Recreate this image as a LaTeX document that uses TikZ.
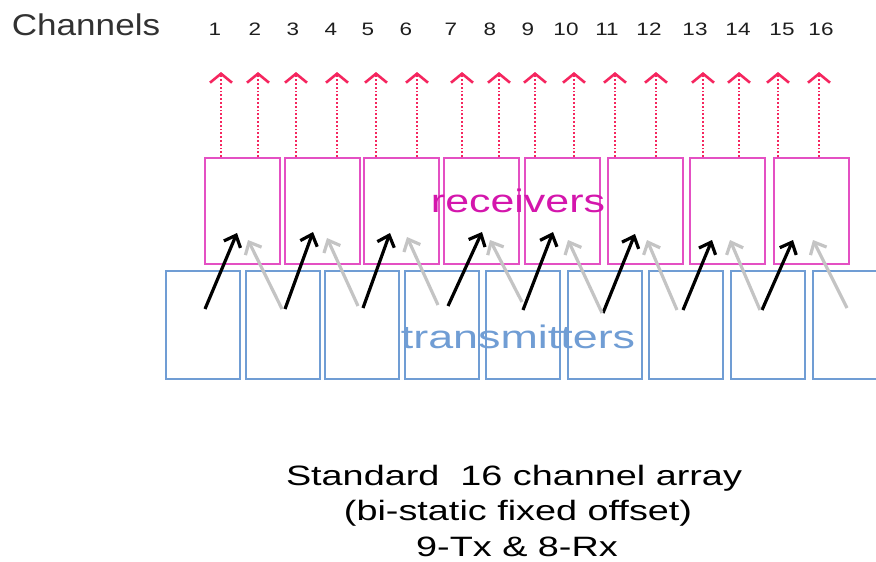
\documentclass[tikz,border=0pt]{standalone}
\usepackage{fontspec}
\setmainfont{Liberation Sans}
\usepackage{graphicx}
\usetikzlibrary{arrows.meta}

\definecolor{rxline}{RGB}{228,80,195}
\definecolor{rxtext}{RGB}{212,22,172}
\definecolor{txblue}{RGB}{112,157,212}
\definecolor{chred}{RGB}{245,38,95}
\definecolor{paleflow}{RGB}{196,196,196}
\definecolor{digitgray}{RGB}{30,30,30}
\definecolor{titlegray}{RGB}{50,50,50}

% horizontally widened text
\newcommand\widetext[3]{\scalebox{#1}[1]{\fontsize{#2}{#2}\selectfont #3}}

\begin{document}
\begin{tikzpicture}[x=1pt,y=-1pt,
  rxbox/.style={draw=rxline,line width=1.8pt,minimum width=75pt,minimum height=106pt,
    inner sep=0pt,anchor=north west},
  txbox/.style={draw=txblue,line width=1.8pt,minimum width=74pt,minimum height=108pt,
    inner sep=0pt,anchor=north west},
  chanflow/.style={draw=chred,line width=2.6pt,dash pattern=on 1.8pt off 2pt,
    -{Straight Barb[length=9pt,width=22pt,line width=2.6pt]}},
  directray/.style={draw=black,line width=3.2pt,
    -{Straight Barb[length=10pt,width=18pt,line width=3.2pt]}},
  sideray/.style={draw=paleflow,line width=3.2pt,
    -{Straight Barb[length=10pt,width=18pt,line width=3.2pt]}},
  chnum/.style={anchor=base,text=digitgray,inner sep=0pt},
  caption/.style={anchor=base,text=black,inner sep=0pt}
]
\useasboundingbox (0,0) rectangle (876,562);
\clip (0,0) rectangle (876,562);

% transmitter row
\foreach \k/\x in {1/165,2/245,3/324,4/404,5/485,6/567,7/648,8/730,9/812}
  \node[txbox] (tx\k) at (\x,270) {};

% receiver row
\foreach \k/\x in {1/204,2/284,3/363,4/443,5/524,6/607,7/689,8/773}
  \node[rxbox] (rx\k) at (\x,157) {};

% row labels
\node[anchor=base,text=rxtext,inner sep=0pt] (rxlabel) at (518,212)
  {\widetext{1.32}{32.5}{receivers}};
\node[anchor=base,text=txblue,inner sep=0pt] (txlabel) at (518,348)
  {\widetext{1.38}{32.5}{transmitters}};

% output channels leaving the receivers
\foreach \i/\r/\x in {1/1/221,2/1/258,3/2/296,4/2/337,5/3/376,6/3/417,7/4/462,8/4/499,
                      9/5/535,10/5/574,11/6/615,12/6/656,13/7/703,14/7/739,15/8/778,16/8/819}{
  \coordinate (c\i) at (\x,72);
  \draw[chanflow] (rx\r.north -| c\i) -- (c\i);
}

% channel numbers
\node[anchor=base,text=titlegray,inner sep=0pt] (chtitle) at (86,35)
  {\widetext{1.17}{30}{Channels}};
\foreach \i/\x in {1/215,2/255,3/293,4/331,5/368,6/406,7/451,8/490,
                   9/528,10/566,11/607,12/649,13/695,14/738,15/782,16/821}
  \node[chnum] (n\i) at (\x,35) {\widetext{1.25}{18}{\i}};

% direct ray: transmitter k to receiver k
\foreach \k/\sx/\sy/\ex/\ey in {1/205/309/237/233,2/285/309/313/232,3/363/308/390/233,
    4/448/306/482/232,5/523/310/553/232,6/603/313/635/234,7/683/310/712/240,8/762/310/793/240}{
  \coordinate (ds\k) at (\sx,\sy);
  \coordinate (de\k) at (\ex,\ey);
  \draw[directray] (ds\k) -- (de\k);
}

% side ray: transmitter k+1 to receiver k
\foreach \k/\sx/\sy/\ex/\ey in {1/282/309/248/240,2/358/306/327/238,3/438/305/407/237,
    4/522/302/490/240,5/602/313/568/240,6/677/310/647/240,7/760/310/730/240,8/847/308/813/240}{
  \coordinate (ss\k) at (\sx,\sy);
  \coordinate (se\k) at (\ex,\ey);
  \draw[sideray] (ss\k) -- (se\k);
}

% caption
\node[caption] (cap1) at (514,485) {\widetext{1.35}{28}{Standard\ \ 16 channel array}};
\node[caption] (cap2) at (518,520) {\widetext{1.35}{28}{(bi-static fixed offset)}};
\node[caption] (cap3) at (517,556) {\widetext{1.35}{28}{9-Tx \& 8-Rx}};
\end{tikzpicture}
\end{document}
